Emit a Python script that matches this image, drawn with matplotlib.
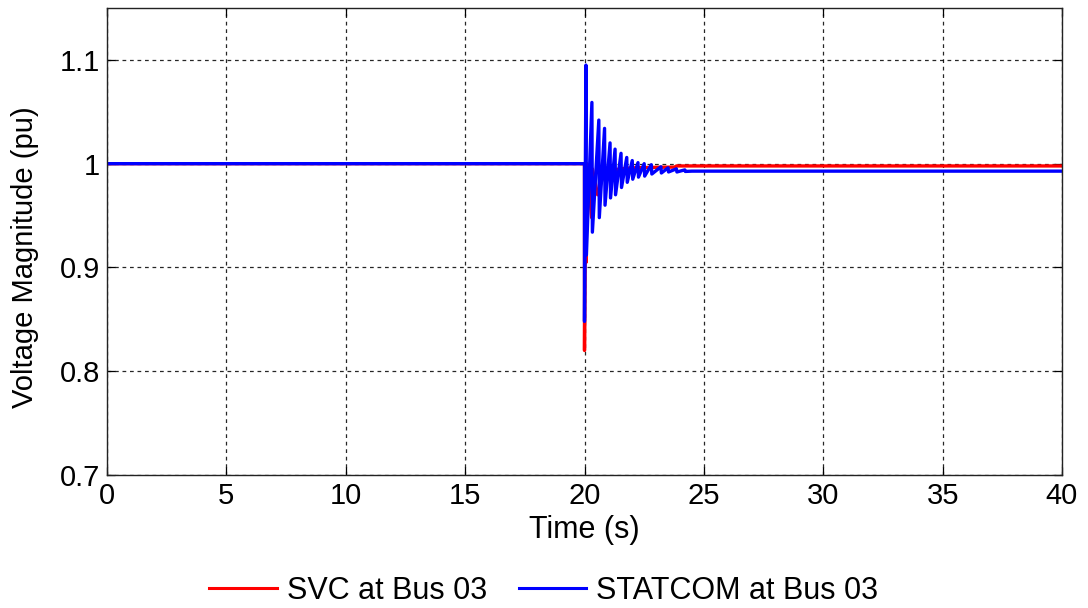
import matplotlib
matplotlib.use("Agg")
import matplotlib.pyplot as plt

# ---- data ----
# STATCOM: oscillation peaks after the disturbance at t = 20 s
statcom_peak_t   = [20.06, 20.31, 20.60, 20.84, 21.07, 21.28, 21.53, 21.77, 22.00, 22.24, 22.50, 22.80, 23.20, 23.50, 23.85, 24.20]
statcom_peak_top = [1.095, 1.059, 1.042, 1.034, 1.020, 1.014, 1.010, 1.006, 1.003, 1.001, 1.000, 0.999, 0.997, 0.996, 0.995, 0.994]
statcom_peak_bot = [0.912, 0.934, 0.948, 0.960, 0.967, 0.970, 0.977, 0.982, 0.985, 0.987, 0.988, 0.990, 0.991, 0.992, 0.992, 0.9925]
statcom_pre = 1.0
statcom_dip = 0.848
statcom_final = 0.9928

# SVC trace
svc_t = [0.0, 20.0, 20.0, 20.04, 20.07, 20.10, 20.30, 20.33, 20.55, 20.80, 21.00, 21.50, 22.00, 23.00, 23.80, 23.85, 40.0]
svc_v = [1.0, 1.0, 0.82, 0.99, 0.905, 1.0, 0.948, 0.995, 0.97, 0.99, 0.993, 0.995, 0.996, 0.9965, 0.9967, 0.9978, 0.9978]

x_ticks = [0, 5, 10, 15, 20, 25, 30, 35, 40]
y_ticks = [0.7, 0.8, 0.9, 1.0, 1.1]
y_tick_labels = ["0.7", "0.8", "0.9", "1", "1.1"]

# build STATCOM polyline from the read peaks
st_t = [0.0, 20.0, 20.0]
st_v = [statcom_pre, statcom_pre, statcom_dip]
for t, top, bot in zip(statcom_peak_t, statcom_peak_top, statcom_peak_bot):
    st_t += [t, t + 0.02]
    st_v += [top, bot]
st_t += [24.5, 40.0]
st_v += [statcom_final, statcom_final]

plt.rcParams['font.family'] = ['Liberation Sans', 'DejaVu Sans']

fig = plt.figure(figsize=(10.88, 6.08), dpi=100)
ax = fig.add_axes([107/1088, 1 - 475/608, (1062-107)/1088, (475-8)/608])

ax.plot(svc_t, svc_v, color='#ff0000', lw=2.4, label='SVC at Bus 03')
ax.plot(st_t, st_v, color='#0000ff', lw=2.4, label='STATCOM at Bus 03')

ax.set_xlim(0, 40)
ax.set_ylim(0.7, 1.15)
ax.set_xticks(x_ticks)
ax.set_yticks(y_ticks)
ax.set_yticklabels(y_tick_labels)
ax.grid(True, color='black', linestyle=(0, (3, 3)), linewidth=0.9, alpha=0.85)
ax.tick_params(direction='in', top=True, right=True, labelsize=21, length=6, width=0.9, pad=5)
for s in ax.spines.values():
    s.set_linewidth(1.0)
    s.set_color('#222222')

ax.set_xlabel('Time (s)', fontsize=22)
ax.set_ylabel('Voltage Magnitude (pu)', fontsize=21)
ax.xaxis.set_label_coords(0.5, -(530 - 475) / 467, transform=ax.transAxes)
ax.xaxis.label.set_va('center')
ax.yaxis.set_label_coords(-(107 - 25) / 955, 0.5 - 16 / 467, transform=ax.transAxes)
ax.yaxis.label.set_va('center')

handles, labels = ax.get_legend_handles_labels()
leg = fig.legend(handles, labels, loc='center', bbox_to_anchor=(0.5, 1 - 591/608), ncol=2,
                 frameon=False, fontsize=22, handlelength=2.2, columnspacing=1.05, handletextpad=0.33)
for line in leg.get_lines():
    line.set_linewidth(2.2)

fig.savefig('out.png', dpi=100)
